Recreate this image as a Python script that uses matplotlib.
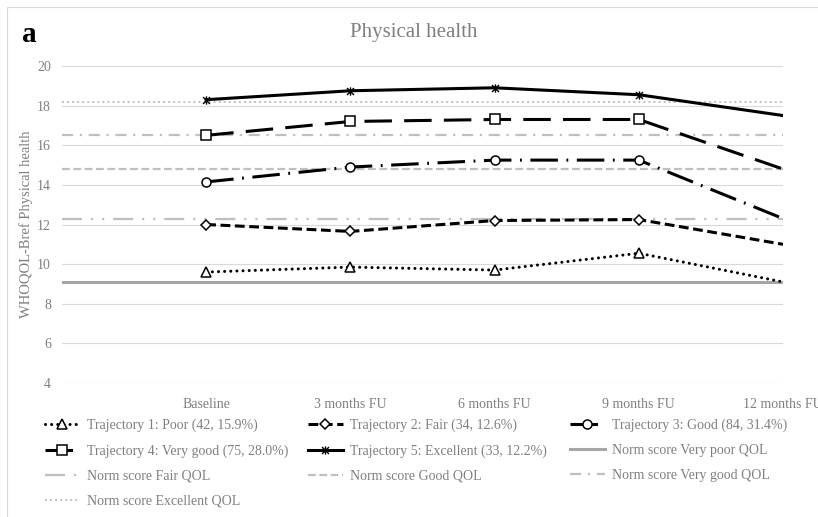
import matplotlib
matplotlib.use('Agg')
import matplotlib.pyplot as plt
from matplotlib.path import Path
from matplotlib.patches import Rectangle
import numpy as np

plt.rcParams['font.family'] = ['Liberation Serif', 'DejaVu Serif']

# categorias del eje X (la primera va vacia)
categories = ['', 'Baseline', '3 months FU', '6 months FU', '9 months FU', '12 months FU']

# trayectorias (Baseline .. 12 meses)
traj_labels = ['Trajectory 1: Poor (42, 15.9%)',
               'Trajectory 2: Fair (34, 12.6%)',
               'Trajectory 3: Good (84, 31.4%)',
               'Trajectory 4: Very good (75, 28.0%)',
               'Trajectory 5: Excellent (33, 12.2%)']
traj_poor = [9.6, 9.85, 9.7, 10.55, 9.1]
traj_fair = [12.0, 11.65, 12.2, 12.25, 11.0]
traj_good = [14.15, 14.9, 15.25, 15.25, 12.3]
traj_verygood = [16.5, 17.2, 17.3, 17.3, 14.8]
traj_excellent = [18.3, 18.75, 18.9, 18.55, 17.5]

# valores de referencia (norma)
norm_labels = ['Norm score Very poor QOL', 'Norm score Fair QOL', 'Norm score Good QOL',
               'Norm score Very good QOL', 'Norm score Excellent QOL']
norm_values = [9.1, 12.3, 14.8, 16.5, 18.2]

yticks = [4, 6, 8, 10, 12, 14, 16, 18, 20]

W, H = 818, 517
fig = plt.figure(figsize=(W / 100, H / 100), dpi=100)
ax = fig.add_axes([62 / W, 1 - 383 / H, (783 - 62) / W, (383 - 66) / H])

grey_txt = '#7f7f7f'
grey_ln = '#bfbfbf'

# marco exterior
fig.patches.append(Rectangle((6.5 / W, -0.1), 1.2, 1 - 6.5 / H + 0.1,
                             transform=fig.transFigure, fill=False,
                             edgecolor='#d9d9d9', lw=0.8))

# asterisco tipo Excel (X + barra vertical)
star = Path([(-1, -1), (1, 1), (-1, 1), (1, -1), (0, -1.2), (0, 1.2)],
            [Path.MOVETO, Path.LINETO, Path.MOVETO, Path.LINETO, Path.MOVETO, Path.LINETO])

# lineas de norma
norm_styles = [
    dict(ls='-', lw=2.2, color='#a6a6a6'),
    dict(ls=(0, (9, 4, 1, 4, 1, 4)), lw=1.6, color=grey_ln),
    dict(ls=(0, (3.5, 1.6)), lw=1.6, color=grey_ln),
    dict(ls=(0, (5, 3, 1, 3)), lw=1.6, color=grey_ln),
    dict(ls=(0, (1, 1.6)), lw=1.4, color=grey_ln),
]
norm_handles = []
for val, lab, st in zip(norm_values, norm_labels, norm_styles):
    h = ax.axhline(val, label=lab, zorder=2, **st)
    norm_handles.append(h)

# marcadores solo hasta 9 meses
x = np.arange(1, len(categories))
mk = dict(markerfacecolor='white', markeredgecolor='black', markeredgewidth=1.1, color='black',
          lw=2.2, zorder=4, markevery=[0, 1, 2, 3])
h1, = ax.plot(x, traj_poor, ls=(0, (0.01, 2.0)), dash_capstyle='round', marker='^', markersize=7, **mk)
h2, = ax.plot(x, traj_fair, ls=(0, (3.2, 1.5)), marker='D', markersize=5.5, **mk)
h3, = ax.plot(x, traj_good, ls=(0, (9, 2.8, 0.6, 2.8)), marker='o', markersize=6.5, **mk)
h4, = ax.plot(x, traj_verygood, ls=(0, (9, 4)), marker='s', markersize=6.5, **mk)
h5, = ax.plot(x, traj_excellent, ls='-', marker=star, markersize=6, color='black', lw=2.2,
              markeredgecolor='black', markerfacecolor='none', markeredgewidth=1.0, zorder=4,
              markevery=[0, 1, 2, 3])
traj_handles = [h1, h2, h3, h4, h5]

ax.set_xlim(0, len(categories) - 1)
ax.set_ylim(4, 20)
ax.set_yticks(yticks)
ax.set_xticks(np.arange(len(categories)))
ax.set_xticklabels(categories)
ax.grid(axis='y', color='#d9d9d9', lw=0.8, zorder=0)
ax.set_axisbelow(True)
for s in ax.spines.values():
    s.set_visible(False)
ax.tick_params(axis='both', length=0, labelsize=10, labelcolor=grey_txt)
ax.tick_params(axis='y', pad=8)
ax.tick_params(axis='x', pad=11)
for t in ax.get_xticklabels():
    t.set_clip_on(False)

ax.set_ylabel('WHOQOL-Bref Physical health', fontsize=10.5, color=grey_txt, labelpad=3)

fig.text(414 / W, 1 - 37 / H, 'Physical health', ha='center', va='baseline',
         fontsize=15, color=grey_txt)
fig.text(22 / W, 1 - 42 / H, 'a', ha='left', va='baseline', fontsize=21, fontweight='bold', color='black')

# leyenda en tres columnas, llenada por filas
all_h = traj_handles + norm_handles
all_l = traj_labels + norm_labels
col_x = [45, 308, 570]
for c in range(3):
    hs = all_h[c::3]
    ls = all_l[c::3]
    leg = fig.legend(hs, ls, loc='upper left', bbox_to_anchor=(col_x[c] / W, 1 - 419 / H),
                     frameon=False, borderpad=0, borderaxespad=0, handlelength=2.5,
                     handletextpad=0.5, labelspacing=0.85, fontsize=10, labelcolor=grey_txt,
                     numpoints=1)
    for lh in leg.legend_handles:
        lh.set_markevery([1])

fig.savefig('out.png', dpi=100)
